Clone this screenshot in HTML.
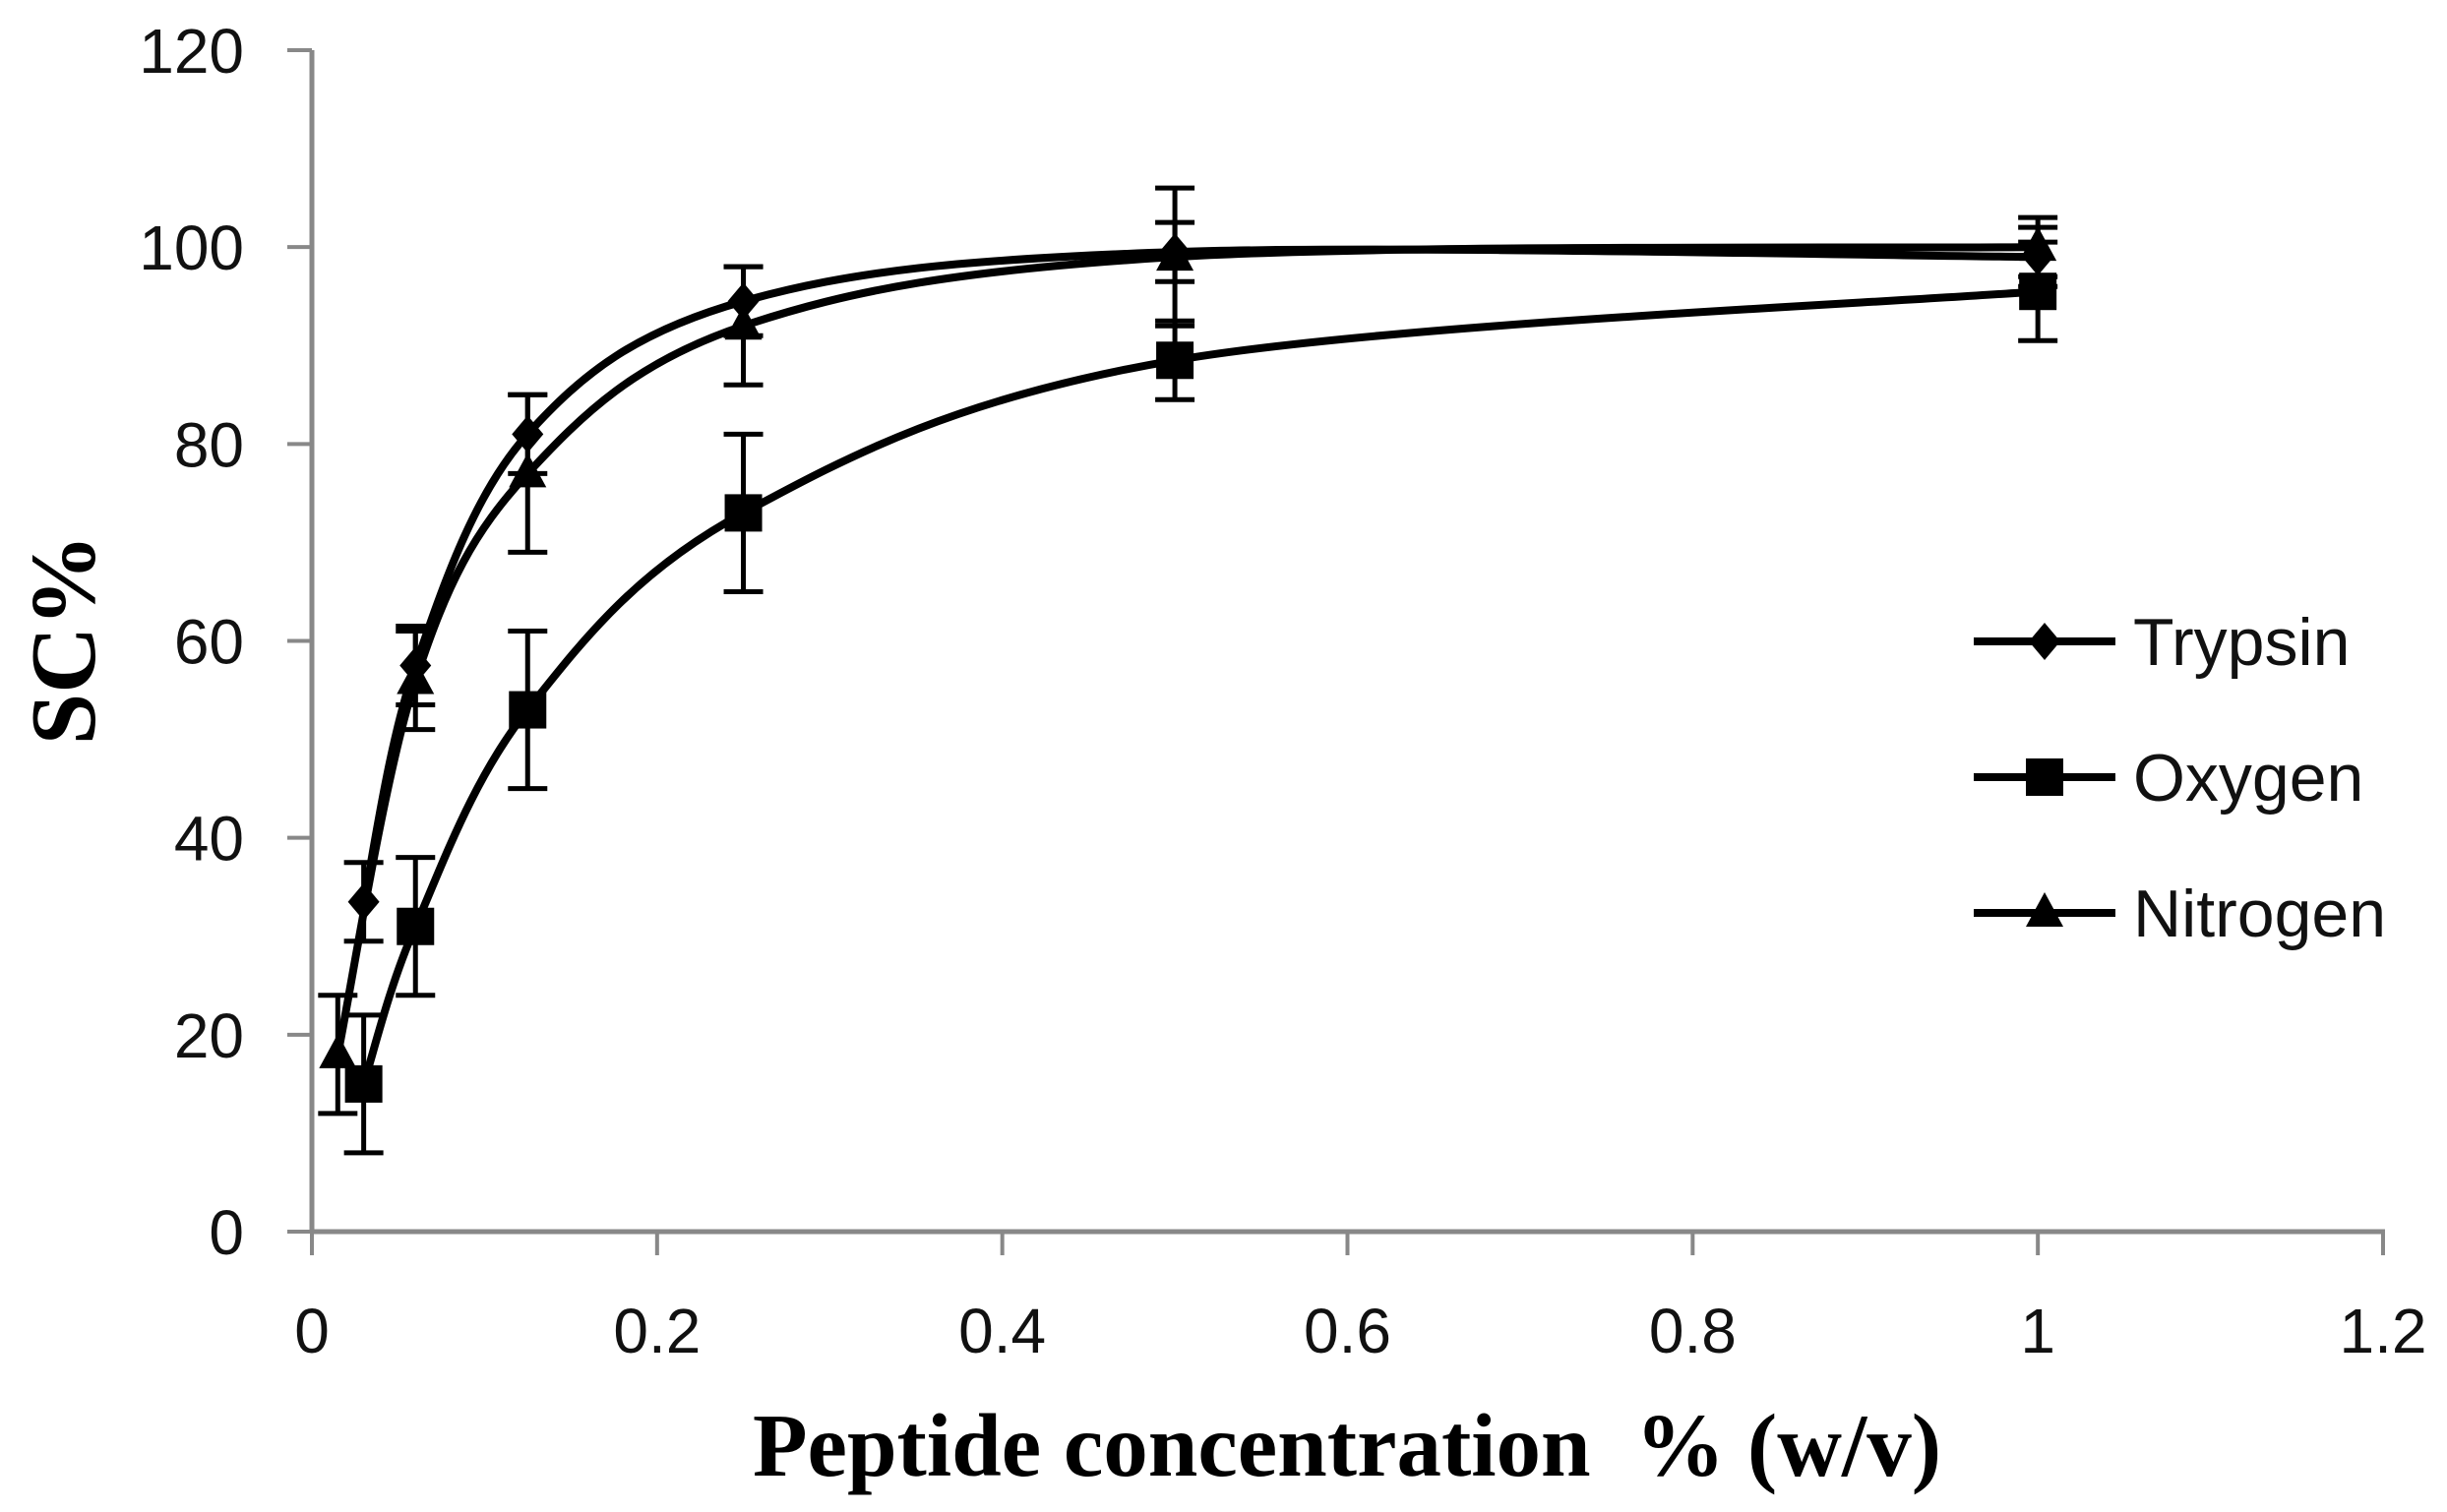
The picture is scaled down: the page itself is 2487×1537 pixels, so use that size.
<!DOCTYPE html>
<html><head><meta charset="utf-8"><style>html,body{margin:0;padding:0;background:#fff}</style></head>
<body>
<svg id="s" width="2487" height="1537" xmlns="http://www.w3.org/2000/svg" style="display:block">
<g font-family="Liberation Sans, DejaVu Sans, sans-serif" font-size="64" fill="#111" id="ticks"></g>
<text x="0" y="0" transform="translate(96,650) rotate(-90)" text-anchor="middle" font-family="Liberation Serif, serif" font-weight="bold" font-size="94">SC%</text>
<text x="1369" y="1500" text-anchor="middle" font-family="Liberation Serif, serif" font-weight="bold" font-size="91" xml:space="preserve">Peptide concentration  % (w/v)</text>
<g id="plot"></g>
</svg>
<script>
const X=v=>317+v*(2422-317)/1.2, Y=v=>1252-v*(1252-51)/120;
const NS="http://www.w3.org/2000/svg";
function el(t,a,p){const e=document.createElementNS(NS,t);for(const k in a)e.setAttribute(k,a[k]);(p||document.getElementById('plot')).appendChild(e);return e;}
const tk=document.getElementById('ticks');
el('line',{x1:317,y1:51,x2:317,y2:1252,stroke:'#888','stroke-width':5});
el('line',{x1:317,y1:1252,x2:2424,y2:1252,stroke:'#888','stroke-width':5});
for(let i=0;i<=6;i++){const y=Y(i*20);el('line',{x1:292,y1:y,x2:317,y2:y,stroke:'#888','stroke-width':4});
 const t=el('text',{x:248,y:y+23,'text-anchor':'end'},tk);t.textContent=i*20;}
for(let i=0;i<=6;i++){const x=X(i*0.2);el('line',{x1:x,y1:1252,x2:x,y2:1276,stroke:'#888','stroke-width':4});
 const t=el('text',{x:x,y:1375,'text-anchor':'middle'},tk);t.textContent=i==0?'0':(i==5?'1':(i*0.2).toFixed(1));}
const series=[
 {m:'d',pts:[[0.03,33.5,4],[0.06,57.5,4],[0.125,81,4],[0.25,94.5,3.5],[0.5,99.5,3],[1,99,3]]},
 {m:'s',pts:[[0.03,15,7],[0.06,31,7],[0.125,53,8],[0.25,73,8],[0.5,88.5,4],[1,95.5,5]]},
 {m:'t',pts:[[0.015,18,6],[0.06,56,5],[0.125,77,8],[0.25,92,6],[0.5,99,7],[1,100,3]]}];
function path(p){let d=`M${X(p[0][0])},${Y(p[0][1])}`;const P=p.map(q=>[X(q[0]),Y(q[1])]);
 for(let i=0;i<P.length-1;i++){const p0=P[i-1]||P[i],p1=P[i],p2=P[i+1],p3=P[i+2]||P[i+1];const k=6;
  d+=` C${p1[0]+(p2[0]-p0[0])/k},${p1[1]+(p2[1]-p0[1])/k} ${p2[0]-(p3[0]-p1[0])/k},${p2[1]-(p3[1]-p1[1])/k} ${p2[0]},${p2[1]}`;}return d;}
function marker(m,x,y,g){if(m=='d')el('polygon',{points:`${x},${y-19} ${x+16},${y} ${x},${y+19} ${x-16},${y}`,fill:'#000'},g);
 else if(m=='s')el('rect',{x:x-19,y:y-19,width:38,height:38,fill:'#000'},g);
 else el('polygon',{points:`${x},${y-21} ${x+19},${y+14} ${x-19},${y+14}`,fill:'#000'},g);}
series.forEach(s=>{
 s.pts.forEach(p=>{const x=X(p[0]),a=Y(p[1]+p[2]),b=Y(p[1]-p[2]);
  el('line',{x1:x,y1:a,x2:x,y2:b,stroke:'#000','stroke-width':5});
  el('line',{x1:x-20,y1:a,x2:x+20,y2:a,stroke:'#000','stroke-width':5});
  el('line',{x1:x-20,y1:b,x2:x+20,y2:b,stroke:'#000','stroke-width':5});});
 el('path',{d:path(s.pts),fill:'none',stroke:'#000','stroke-width':8});
 s.pts.forEach(p=>marker(s.m,X(p[0]),Y(p[1])));});
const leg=[['d','Trypsin',652],['s','Oxygen',790],['t','Nitrogen',928]];
leg.forEach(l=>{el('line',{x1:2006,y1:l[2],x2:2150,y2:l[2],stroke:'#000','stroke-width':8});marker(l[0],2078,l[2]);
 const t=el('text',{x:2168,y:l[2]+24,'font-family':'Liberation Sans, sans-serif','font-size':68,fill:'#111'});t.textContent=l[1];});
</script>
</body></html>
